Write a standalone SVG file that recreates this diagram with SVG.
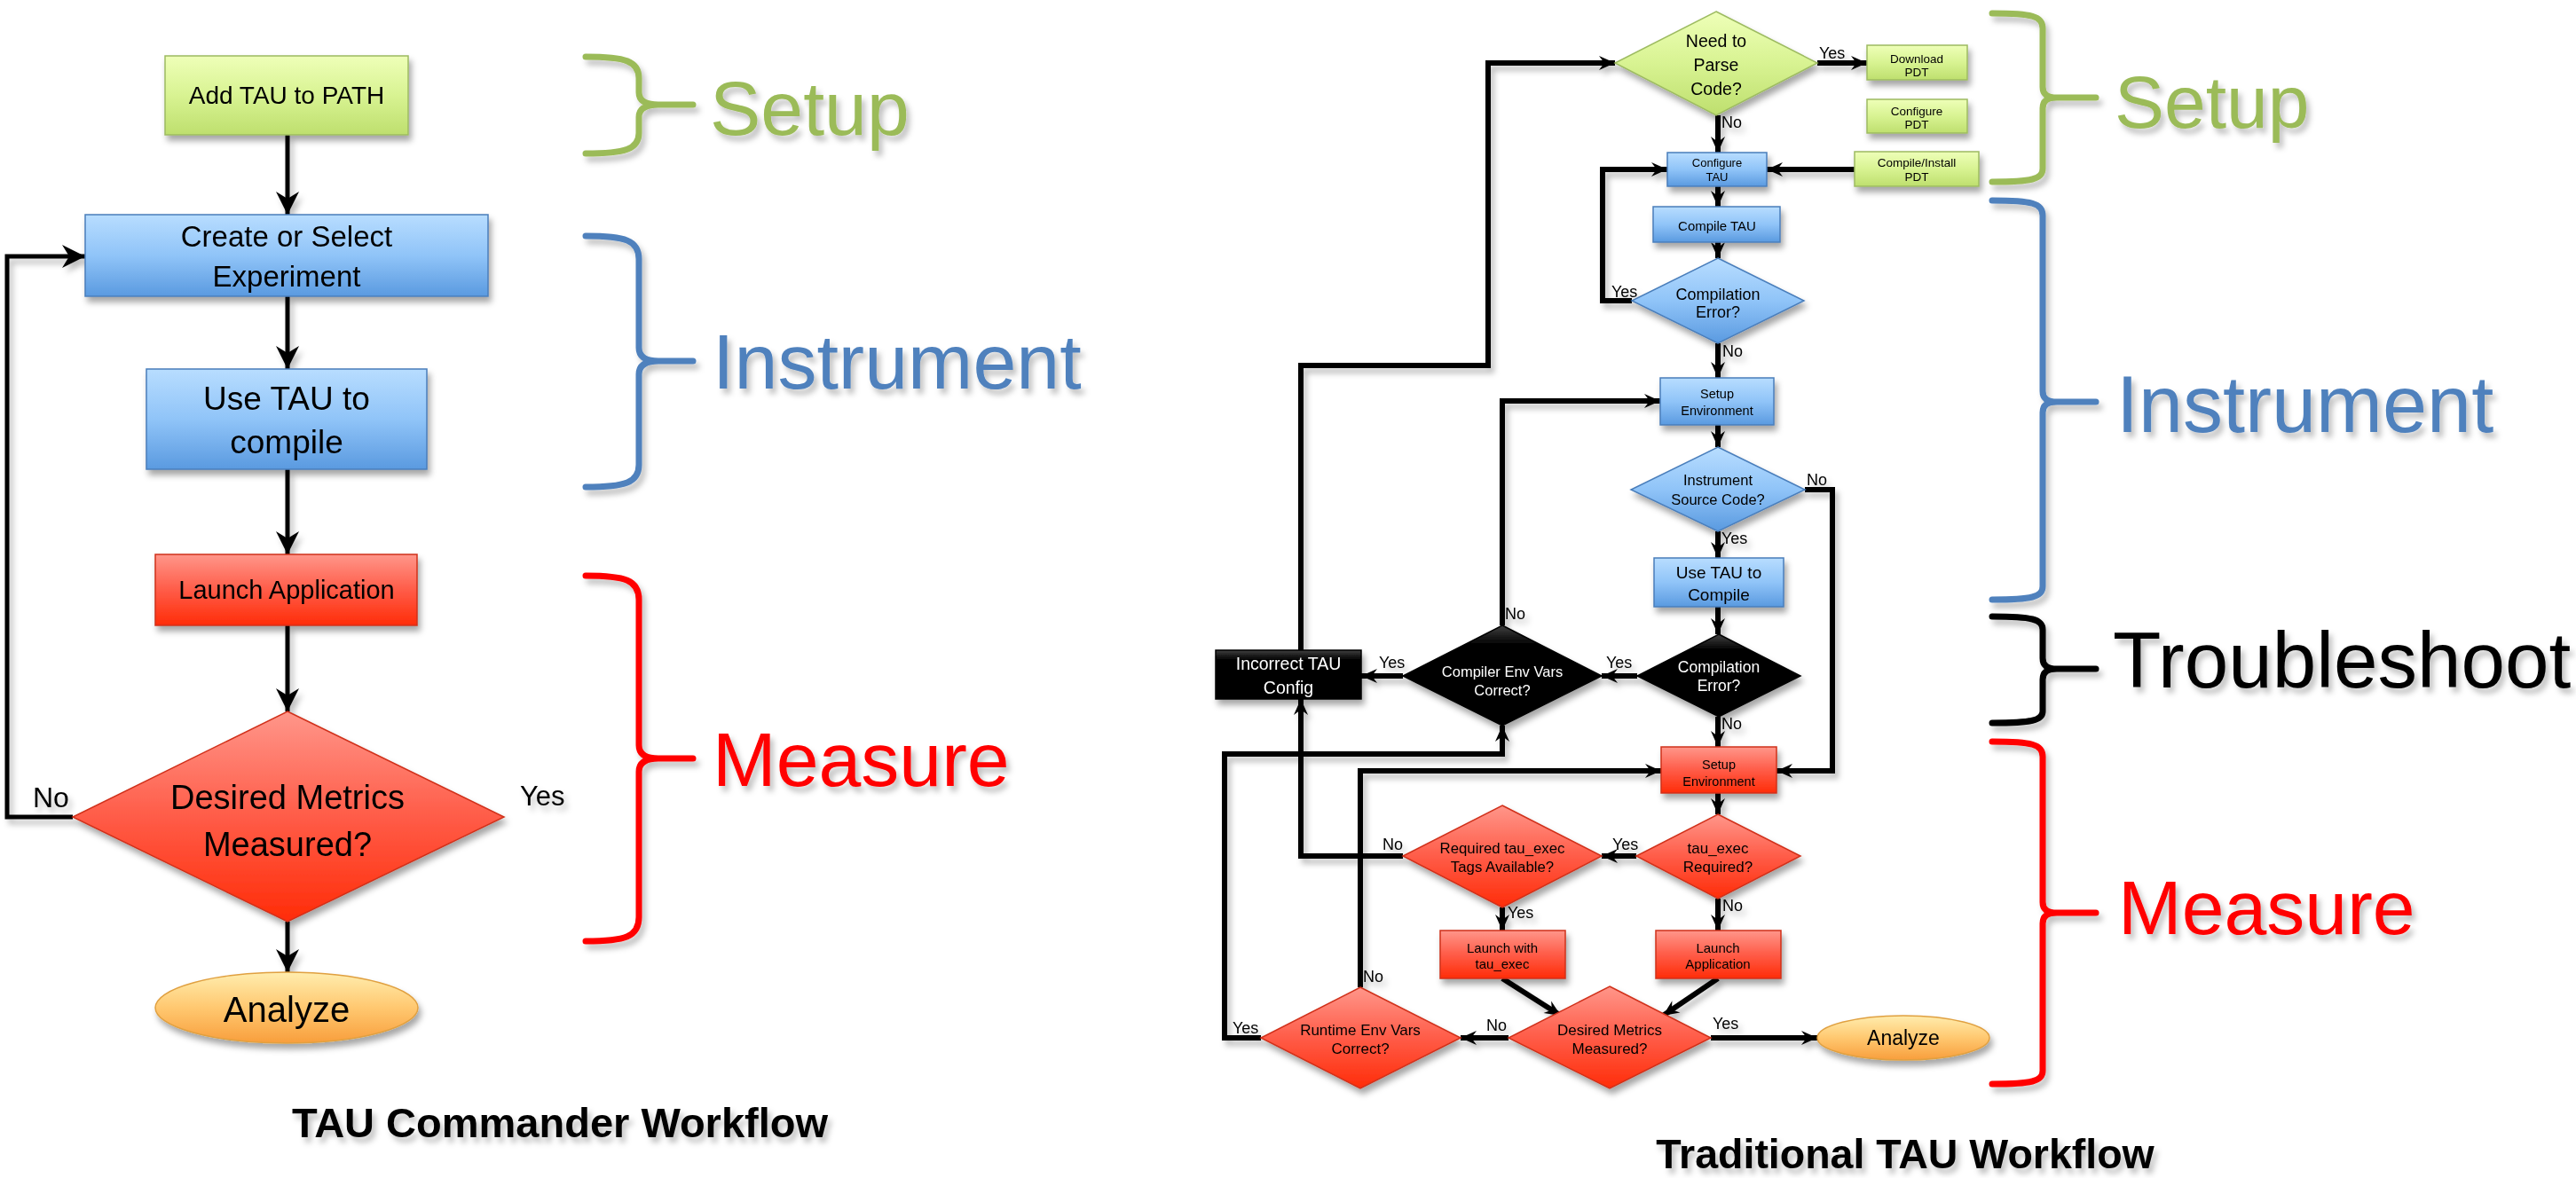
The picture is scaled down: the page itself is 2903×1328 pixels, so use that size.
<svg xmlns="http://www.w3.org/2000/svg" width="2903" height="1328" viewBox="0 0 2903 1328">
<defs>
<linearGradient id="gG" x1="0" y1="0" x2="0" y2="1"><stop offset="0" stop-color="#EEFFB8"/><stop offset="0.5" stop-color="#D8F392"/><stop offset="1" stop-color="#BEDF6E"/></linearGradient>
<linearGradient id="gB" x1="0" y1="0" x2="0" y2="1"><stop offset="0" stop-color="#B8DDFF"/><stop offset="0.5" stop-color="#90C4F8"/><stop offset="1" stop-color="#5A9AE0"/></linearGradient>
<linearGradient id="gR" x1="0" y1="0" x2="0" y2="1"><stop offset="0" stop-color="#FF968A"/><stop offset="0.5" stop-color="#FF5C48"/><stop offset="1" stop-color="#FF2C08"/></linearGradient>
<linearGradient id="gK" x1="0" y1="0" x2="0" y2="1"><stop offset="0" stop-color="#404040"/><stop offset="0.18" stop-color="#050505"/><stop offset="1" stop-color="#000"/></linearGradient>
<linearGradient id="gO" x1="0" y1="0" x2="0" y2="1"><stop offset="0" stop-color="#FFEDAE"/><stop offset="0.5" stop-color="#FFC870"/><stop offset="1" stop-color="#F89E3C"/></linearGradient>
<filter id="sh" x="-20%" y="-20%" width="150%" height="160%"><feDropShadow dx="3" dy="6" stdDeviation="3.5" flood-color="#000" flood-opacity="0.35"/></filter>
<filter id="tsh" x="-10%" y="-20%" width="130%" height="160%"><feDropShadow dx="4" dy="6" stdDeviation="3" flood-color="#000" flood-opacity="0.25"/></filter>
<marker id="aL" markerUnits="userSpaceOnUse" markerWidth="30" markerHeight="30" viewBox="-28 -15 30 30" refX="0" refY="0" orient="auto"><path d="M0,0 L-26,-13 L-18,0 L-26,13 Z" fill="#000"/></marker>
<marker id="aR" markerUnits="userSpaceOnUse" markerWidth="22" markerHeight="20" viewBox="-20 -10 22 20" refX="0" refY="0" orient="auto"><path d="M0,0 L-18,-8 L-12,0 L-18,8 Z" fill="#000"/></marker>
<style>
.g{fill:url(#gG);stroke:#9DBB61;stroke-width:1.5}
.b{fill:url(#gB);stroke:#4A7EBB;stroke-width:1.5}
.r{fill:url(#gR);stroke:#D0301A;stroke-width:1.5}
.k{fill:url(#gK);stroke:#000;stroke-width:1.5}
.o{fill:url(#gO);stroke:#E0A040;stroke-width:1.5}
.nd{filter:url(#sh)}
.t{font-family:"Liberation Sans",Arial,sans-serif;text-anchor:middle;fill:#000}
.w{fill:#fff}
.lb{font-family:"Liberation Sans",Arial,sans-serif;fill:#000}
.cl{fill:none;stroke:#000;stroke-width:5;marker-end:url(#aL)}
.cl0{fill:none;stroke:#000;stroke-width:5}
.cr{fill:none;stroke:#000;stroke-width:6;marker-end:url(#aR)}
.brace{fill:none;stroke-width:7;stroke-linecap:round;filter:url(#tsh)}
.big{font-family:"Liberation Sans",Arial,sans-serif;filter:url(#tsh)}
.ttl{font-family:"Liberation Sans",Arial,sans-serif;font-weight:bold;text-anchor:middle;fill:#000;filter:url(#tsh)}
</style>
</defs>
<rect width="2903" height="1328" fill="#fff"/>

<!-- LEFT: TAU Commander Workflow -->
<g id="left-connectors" filter="url(#tsh)">
<path class="cl" d="M324,152 V242"/>
<path class="cl" d="M324,334 V416"/>
<path class="cl" d="M324,529 V625"/>
<path class="cl" d="M324,705 V802"/>
<path class="cl" d="M324,1039 V1096"/>
<path class="cl" d="M82,921 H8 V289 H96"/>
<text class="lb" x="37" y="910" font-size="32">No</text>
<text class="lb" x="586" y="908" font-size="31">Yes</text>
</g>
<g id="l-add-tau" class="nd"><rect class="g" x="186" y="63" width="274" height="89"/><text class="t" x="323" y="117" font-size="28">Add TAU to PATH</text></g>
<g id="l-create-exp" class="nd"><rect class="b" x="96" y="242" width="454" height="92"/><text class="t" x="323" y="278" font-size="33">Create or Select</text><text class="t" x="323" y="323" font-size="33">Experiment</text></g>
<g id="l-use-tau" class="nd"><rect class="b" x="165" y="416" width="316" height="113"/><text class="t" x="323" y="462" font-size="37">Use TAU to</text><text class="t" x="323" y="511" font-size="37">compile</text></g>
<g id="l-launch" class="nd"><rect class="r" x="175" y="625" width="295" height="80"/><text class="t" x="323" y="675" font-size="29">Launch Application</text></g>
<g id="l-desired" class="nd"><polygon class="r" points="324,802 568,921 324,1039 82,921"/><text class="t" x="324" y="912" font-size="38">Desired Metrics</text><text class="t" x="324" y="965" font-size="38">Measured?</text></g>
<g id="l-analyze" class="nd"><ellipse class="o" cx="323" cy="1136" rx="148" ry="40"/><text class="t" x="323" y="1152" font-size="40">Analyze</text></g>

<g id="left-phases">
<path class="brace" stroke="#9BBB59" d="M660,64 C705,64 720,69 720,88 L720,104 C720,113 727,118 742,118 L781,118 M742,118 C727,118 720,123 720,132 L720,150 C720,168 705,173 660,173"/>
<path class="brace" stroke="#4F81BD" d="M660,266 C705,266 720,271 720,292 L720,392 C720,402 727,407 742,407 L781,407 M742,407 C727,407 720,412 720,422 L720,524 C720,544 705,549 660,549"/>
<path class="brace" stroke="#FF0000" d="M660,649 C705,649 720,654 720,676 L720,840 C720,850 727,855 742,855 L781,855 M742,855 C727,855 720,860 720,870 L720,1034 C720,1056 705,1061 660,1061"/>
<text class="big" x="800" y="152" font-size="86" fill="#9BBB59">Setup</text>
<text class="big" x="803" y="438" font-size="88" fill="#4F81BD">Instrument</text>
<text class="big" x="803" y="886" font-size="86" fill="#FF0000">Measure</text>
</g>
<text id="title-left" class="ttl" x="631" y="1282" font-size="47">TAU Commander Workflow</text>

<!-- RIGHT: Traditional TAU Workflow -->
<g id="right-connectors" filter="url(#tsh)">
<path class="cr" d="M1466,733 V412 H1677 V71 H1820"/>
<path class="cr" d="M2048,71 H2104"/>
<path class="cr" d="M1936,130 V172"/>
<path class="cr" d="M2090,191 H1991"/>
<path class="cr" d="M1936,210 V233"/>
<path class="cr" d="M1936,273 V291"/>
<path class="cr" d="M1839,339 H1806 V191 H1879"/>
<path class="cr" d="M1936,387 V426"/>
<path class="cr" d="M1936,479 V504"/>
<path class="cr" d="M2034,552 H2065 V869 H2002"/>
<path class="cr" d="M1936,599 V629"/>
<path class="cr" d="M1936,684 V715"/>
<path class="cr" d="M1845,762 H1805"/>
<path class="cr" d="M1581,762 H1534"/>
<path class="cr" d="M1693,705 V452 H1871"/>
<path class="cr" d="M1936,808 V842"/>
<path class="cr" d="M1936,894 V918"/>
<path class="cr" d="M1844,965 H1805"/>
<path class="cr" d="M1581,965 H1466 V788"/>
<path class="cr" d="M1693,1023 V1049"/>
<path class="cr" d="M1936,1013 V1049"/>
<path class="cr" d="M1693,1103 L1759,1145"/>
<path class="cr" d="M1936,1103 L1874,1145"/>
<path class="cr" d="M1928,1170 H2048"/>
<path class="cr" d="M1700,1170 H1646"/>
<path class="cr" d="M1533,1113 V869 H1872"/>
<path class="cr" d="M1421,1170 H1380 V850 H1693 V818"/>
<g font-size="18">
<text class="lb" x="2050" y="66">Yes</text>
<text class="lb" x="1940" y="144">No</text>
<text class="lb" x="1816" y="335">Yes</text>
<text class="lb" x="1941" y="402">No</text>
<text class="lb" x="2036" y="547">No</text>
<text class="lb" x="1940" y="613">Yes</text>
<text class="lb" x="1810" y="753">Yes</text>
<text class="lb" x="1554" y="753">Yes</text>
<text class="lb" x="1696" y="698">No</text>
<text class="lb" x="1940" y="822">No</text>
<text class="lb" x="1817" y="958">Yes</text>
<text class="lb" x="1558" y="958">No</text>
<text class="lb" x="1699" y="1035">Yes</text>
<text class="lb" x="1941" y="1027">No</text>
<text class="lb" x="1930" y="1160">Yes</text>
<text class="lb" x="1675" y="1162">No</text>
<text class="lb" x="1536" y="1107">No</text>
<text class="lb" x="1389" y="1165">Yes</text>
</g>
</g>

<g id="r-need-parse" class="nd"><polygon class="g" points="1934,13 2048,71 1934,130 1820,71"/><text class="t" x="1934" y="53" font-size="19.5">Need to</text><text class="t" x="1934" y="80" font-size="19.5">Parse</text><text class="t" x="1934" y="107" font-size="19.5">Code?</text></g>
<g id="r-download-pdt" class="nd"><rect class="g" x="2104" y="51" width="113" height="39"/><text class="t" x="2160" y="71" font-size="13.5">Download</text><text class="t" x="2160" y="86" font-size="13.5">PDT</text></g>
<g id="r-configure-pdt" class="nd"><rect class="g" x="2104" y="112" width="113" height="38"/><text class="t" x="2160" y="130" font-size="13.5">Configure</text><text class="t" x="2160" y="145" font-size="13.5">PDT</text></g>
<g id="r-compile-pdt" class="nd"><rect class="g" x="2090" y="171" width="140" height="39"/><text class="t" x="2160" y="188" font-size="13.5">Compile/Install</text><text class="t" x="2160" y="204" font-size="13.5">PDT</text></g>
<g id="r-configure-tau" class="nd"><rect class="b" x="1879" y="172" width="112" height="38"/><text class="t" x="1935" y="188" font-size="13">Configure</text><text class="t" x="1935" y="204" font-size="13">TAU</text></g>
<g id="r-compile-tau" class="nd"><rect class="b" x="1863" y="233" width="143" height="40"/><text class="t" x="1935" y="260" font-size="15">Compile TAU</text></g>
<g id="r-compile-err1" class="nd"><polygon class="b" points="1936,291 2033,339 1936,387 1839,339"/><text class="t" x="1936" y="338" font-size="18">Compilation</text><text class="t" x="1936" y="358" font-size="18">Error?</text></g>
<g id="r-setup-env1" class="nd"><rect class="b" x="1871" y="426" width="128" height="53"/><text class="t" x="1935" y="449" font-size="14.5">Setup</text><text class="t" x="1935" y="468" font-size="14.5">Environment</text></g>
<g id="r-instrument-src" class="nd"><polygon class="b" points="1936,504 2034,552 1936,599 1838,552"/><text class="t" x="1936" y="547" font-size="16.5">Instrument</text><text class="t" x="1936" y="569" font-size="16.5">Source Code?</text></g>
<g id="r-use-tau" class="nd"><rect class="b" x="1864" y="629" width="146" height="55"/><text class="t" x="1937" y="652" font-size="19">Use TAU to</text><text class="t" x="1937" y="677" font-size="19">Compile</text></g>
<g id="r-compile-err2" class="nd"><polygon class="k" points="1937,715 2029,762 1937,808 1845,762"/><text class="t w" x="1937" y="758" font-size="17.5">Compilation</text><text class="t w" x="1937" y="779" font-size="17.5">Error?</text></g>
<g id="r-compiler-env" class="nd"><polygon class="k" points="1693,705 1805,762 1693,818 1581,762"/><text class="t w" x="1693" y="763" font-size="16.5">Compiler Env Vars</text><text class="t w" x="1693" y="784" font-size="16.5">Correct?</text></g>
<g id="r-incorrect-cfg" class="nd"><rect class="k" x="1370" y="733" width="164" height="55"/><text class="t w" x="1452" y="755" font-size="19.5">Incorrect TAU</text><text class="t w" x="1452" y="782" font-size="19.5">Config</text></g>
<g id="r-setup-env2" class="nd"><rect class="r" x="1872" y="842" width="130" height="52"/><text class="t" x="1937" y="867" font-size="14.5">Setup</text><text class="t" x="1937" y="886" font-size="14.5">Environment</text></g>
<g id="r-tauexec-req" class="nd"><polygon class="r" points="1936,918 2029,965 1936,1013 1844,965"/><text class="t" x="1936" y="962" font-size="17">tau_exec</text><text class="t" x="1936" y="983" font-size="17">Required?</text></g>
<g id="r-tags-avail" class="nd"><polygon class="r" points="1693,908 1805,965 1693,1023 1581,965"/><text class="t" x="1693" y="962" font-size="16.8">Required tau_exec</text><text class="t" x="1693" y="983" font-size="16.8">Tags Available?</text></g>
<g id="r-launch-tauexec" class="nd"><rect class="r" x="1623" y="1049" width="141" height="54"/><text class="t" x="1693" y="1074" font-size="15">Launch with</text><text class="t" x="1693" y="1092" font-size="15">tau_exec</text></g>
<g id="r-launch-app" class="nd"><rect class="r" x="1866" y="1049" width="141" height="54"/><text class="t" x="1936" y="1074" font-size="15">Launch</text><text class="t" x="1936" y="1092" font-size="15">Application</text></g>
<g id="r-desired" class="nd"><polygon class="r" points="1814,1112 1928,1170 1814,1227 1700,1170"/><text class="t" x="1814" y="1167" font-size="17">Desired Metrics</text><text class="t" x="1814" y="1188" font-size="17">Measured?</text></g>
<g id="r-runtime-env" class="nd"><polygon class="r" points="1533,1113 1646,1170 1533,1227 1421,1170"/><text class="t" x="1533" y="1167" font-size="17">Runtime Env Vars</text><text class="t" x="1533" y="1188" font-size="17">Correct?</text></g>
<g id="r-analyze" class="nd"><ellipse class="o" cx="2145" cy="1170" rx="97" ry="25"/><text class="t" x="2145" y="1178" font-size="23">Analyze</text></g>

<g id="right-phases">
<path class="brace" stroke-width="5.5" stroke="#9BBB59" d="M2245,15 C2290,15 2302,18 2302,32 L2302,98 C2302,106 2307,110 2318,110 L2362,110 M2318,110 C2307,110 2302,114 2302,122 L2302,190 C2302,202 2290,205 2245,205"/>
<path class="brace" stroke-width="5.5" stroke="#4F81BD" d="M2245,226 C2290,226 2302,229 2302,243 L2302,441 C2302,449 2307,453 2318,453 L2362,453 M2318,453 C2307,453 2302,457 2302,465 L2302,661 C2302,673 2290,676 2245,676"/>
<path class="brace" stroke-width="5.5" stroke="#000" d="M2245,695 C2290,695 2302,698 2302,710 L2302,742 C2302,750 2307,754 2318,754 L2362,754 M2318,754 C2307,754 2302,758 2302,766 L2302,802 C2302,812 2290,815 2245,815"/>
<path class="brace" stroke-width="5.5" stroke="#FF0000" d="M2245,836 C2290,836 2302,839 2302,853 L2302,1017 C2302,1025 2307,1029 2318,1029 L2362,1029 M2318,1029 C2307,1029 2302,1033 2302,1041 L2302,1207 C2302,1219 2290,1222 2245,1222"/>
<text class="big" x="2383" y="144" font-size="84" fill="#9BBB59">Setup</text>
<text class="big" x="2385" y="487" font-size="90" fill="#4F81BD">Instrument</text>
<text class="big" x="2381" y="775" font-size="89" fill="#000">Troubleshoot</text>
<text class="big" x="2387" y="1053" font-size="86" fill="#FF0000">Measure</text>
</g>
<text id="title-right" class="ttl" x="2147" y="1317" font-size="46.5">Traditional TAU Workflow</text>
</svg>
